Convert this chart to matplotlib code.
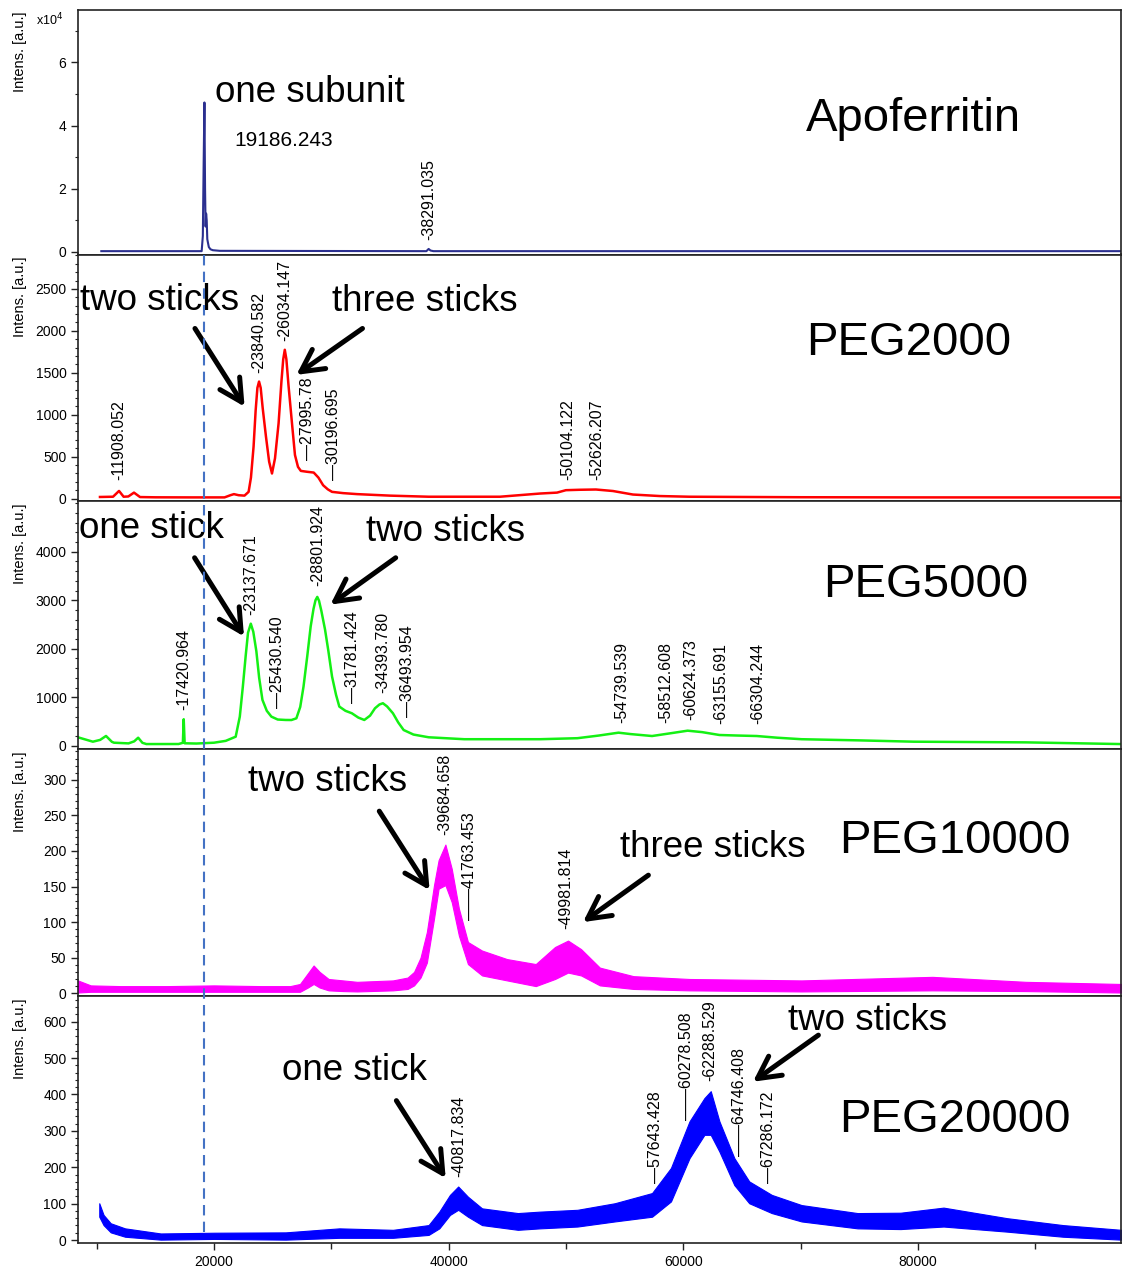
import matplotlib
matplotlib.use('Agg')
import matplotlib.pyplot as plt
import matplotlib.transforms as mtransforms
from matplotlib.lines import Line2D
from matplotlib.ticker import MultipleLocator, StrMethodFormatter

plt.rcParams['font.family'] = ['Liberation Sans', 'DejaVu Sans']

# ---- spectra (m/z, intensity) traced per sample ----
# Apoferritin, intensity in units of 1e4
apo_mz = [10400, 18950, 19050, 19120, 19186.243, 19240, 19285, 19330, 19380, 19430,
          19480, 19560, 19700, 19900, 20500, 38100, 38291.035, 38450, 38700, 97300]
apo_int = [0.02, 0.02, 0.5, 2.8, 4.73, 2.0, 0.8, 1.21, 1.0, 0.4,
           0.3, 0.15, 0.08, 0.05, 0.03, 0.02, 0.09, 0.04, 0.02, 0.02]

peg2k_mz = [10285, 11400, 11908, 12300, 12700, 13183, 13700, 15000, 18000, 20900,
            21400, 21700, 22100, 22600, 22950, 23150, 23374, 23550, 23700, 23840,
            23980, 24150, 24431, 24700, 24943, 25200, 25505, 25750, 25900, 26034,
            26170, 26350, 26647, 26900, 27158, 27400, 27900, 28500, 28900, 29300,
            29700, 30060, 31000, 32200, 35000, 38290, 44370, 47780, 49230, 49990,
            51200, 52550, 54000, 55700, 58000, 60500, 70000, 79600, 97300]
peg2k_int = [19, 22, 91, 22, 25, 71, 18, 15, 14, 14,
             40, 53, 40, 35, 80, 250, 620, 1050, 1320, 1395,
             1320, 1080, 737, 440, 299, 480, 897, 1400, 1660, 1774,
             1660, 1350, 897, 520, 378, 330, 320, 310, 250, 159,
             110, 80, 65, 53, 35, 22, 22, 60, 71, 100,
             105, 108, 90, 48, 30, 22, 16, 14, 13]

peg5k_mz = [8400, 9680, 10300, 10800, 11300, 11480, 12720, 13200, 13540, 13900,
            14240, 16980, 17350, 17421, 17500, 18500, 20000, 21000, 21850, 22200,
            22460, 22700, 22900, 23137, 23350, 23610, 23850, 24130, 24500, 24890,
            25430, 26110, 26600, 27020, 27350, 27630, 27950, 28240, 28480, 28650,
            28802, 28950, 29150, 29460, 29750, 30060, 30400, 30680, 31200, 31750,
            32300, 32810, 33300, 33720, 34100, 34394, 34750, 35250, 35700, 36160,
            37000, 38290, 41330, 45900, 47780, 50970, 52800, 54470, 55500, 57330,
            59000, 60360, 61600, 63070, 64600, 66250, 68000, 70070, 75000, 79630,
            89180, 97300]
peg5k_int = [174, 83, 120, 201, 80, 62, 48, 90, 165, 60,
             34, 35, 60, 546, 50, 45, 62, 100, 186, 600,
             1220, 1850, 2330, 2517, 2350, 1950, 1400, 945, 720, 600,
             540, 531, 530, 565, 800, 1220, 1850, 2461, 2820, 3000,
             3069, 2990, 2780, 2400, 1950, 1427, 1050, 807, 720, 669,
             580, 531, 620, 772, 850, 876, 810, 669, 480, 324,
             230, 174, 134, 134, 134, 155, 210, 269, 240, 200,
             260, 310, 280, 221, 210, 200, 165, 134, 110, 83,
             69, 34]

# noisy traces: upper / lower edge of the noise band
peg10k_mz = [8400, 9500, 12000, 16000, 20000, 24000, 26500, 27330, 28000, 28490,
             29000, 29770, 31000, 32200, 35250, 36500, 37050, 37600, 38140, 38750,
             39140, 39720, 40260, 40870, 41640, 42840, 44970, 47420, 49060, 50170,
             51280, 52880, 55740, 60520, 70070, 81220, 89180, 97300]
peg10k_hi = [18, 11, 10, 10, 11, 10, 10, 13, 28, 39,
             30, 20, 18, 16, 18, 22, 30, 50, 86, 152,
             187, 209, 175, 119, 72, 60, 48, 41, 65, 74,
             62, 36, 24, 20, 18, 23, 16, 13]
peg10k_lo = [1, 2, 2, 2, 2, 2, 2, 2, 8, 13,
             8, 4, 3, 2.5, 4, 6, 11, 22, 43, 105,
             147, 152, 128, 81, 41, 25, 18, 10, 20, 29,
             25, 11, 6, 4, 2.5, 4, 3, 1]

peg20k_mz = [10225, 10590, 11200, 12420, 15460, 20030, 26110, 30680, 35250, 38290,
             39200, 40110, 40810, 41640, 42840, 45900, 47780, 50970, 54150, 57330,
             58940, 60520, 61790, 62330, 63070, 64340, 65610, 67530, 70070, 74840,
             78500, 82170, 87580, 92350, 97300]
peg20k_hi = [101, 69, 46, 32, 18, 20, 21, 32, 28, 41,
             78, 124, 147, 119, 87, 74, 78, 83, 101, 129,
             198, 326, 390, 409, 326, 225, 161, 124, 96, 74,
             75, 89, 60, 41, 28]
peg20k_lo = [64, 41, 21, 9, 1, 3, 1, 6, 6, 14,
             32, 69, 83, 64, 41, 28, 32, 37, 51, 64,
             106, 225, 289, 289, 243, 151, 101, 74, 51, 32,
             30, 37, 23, 9, 1]

# ---- peak labels: mass, leader, height of label foot ----
apo_peaks = ['38291.035']
apo_lead = ['-']
apo_foot = [0.36]

peg2k_peaks = ['11908.052', '23840.582', '26034.147', '27995.78', '30196.695',
               '50104.122', '52626.207']
peg2k_lead = ['-', '-', '-', '—', '—', '-', '-']
peg2k_foot = [219, 1500, 1873, 458, 219, 219, 219]

peg5k_peaks = ['17420.964', '23137.671', '25430.540', '28801.924', '31781.424',
               '34393.780', '36493.954', '54739.539', '58512.608', '60624.373',
               '63155.691', '66304.244']
peg5k_lead = ['-', '-', '—', '-', '—', '-', '—', '-', '-', '-', '-', '-']
peg5k_foot = [738, 2703, 773, 3303, 877, 1083, 600, 476, 476, 531, 448, 448]

peg10k_peaks = ['39684.658', '41763.453', '49981.814']
peg10k_lead = ['-', '——', '-']
peg10k_foot = [222, 102.5, 91]

peg20k_peaks = ['40817.834', '57643.428', '60278.508', '62288.529', '64746.408',
                '67286.172']
peg20k_lead = ['-', '—', '——', '-', '——', '—']
peg20k_foot = [174, 156, 331, 438, 230, 156]

subunit_mass = '19186.243'

# ---- figure layout (pixel rows of the stacked panels) ----
W, H = 1124, 1268
fig = plt.figure(figsize=(W / 100, H / 100), dpi=100)
rows = [(10, 254.5), (254.5, 501), (501, 749.3), (749.3, 996.2), (996.2, 1242.7)]
x_left, x_right = 77.5, 1121
XLIM = (8370, 97290)

axes = []
for top, bottom in rows:
    ax = fig.add_axes([x_left / W, 1 - bottom / H, (x_right - x_left) / W, (bottom - top) / H])
    ax.set_xlim(*XLIM)
    for sp in ax.spines.values():
        sp.set_color('#222222')
        sp.set_linewidth(1.2)
    ax.tick_params(axis='y', which='major', direction='out', length=5, width=1,
                   labelsize=10, pad=3, color='#222222')
    ax.tick_params(axis='y', which='minor', direction='out', length=2.5, width=0.8,
                   color='#222222')
    ax.tick_params(axis='x', which='both', length=0, labelbottom=False)
    fig.text(19.6 / W, 1 - (top + 2) / H, 'Intens. [a.u.]', rotation=90,
             ha='center', va='top', fontsize=10.5)
    axes.append(ax)

ax1, ax2, ax3, ax4, ax5 = axes

label_kw = dict(rotation=90, ha='center', va='bottom', fontsize=11.5)
big_kw = dict(ha='center', va='center', fontsize=26.5)
name_kw = dict(ha='center', va='center', fontsize=34)
arrow_kw = dict(arrowstyle='->,head_length=0.8,head_width=0.42', lw=3.6,
                color='black', shrinkA=0, shrinkB=0, mutation_scale=20)


def peak_labels(ax, peaks, leads, feet):
    for m, lead, y in zip(peaks, leads, feet):
        ax.text(float(m), y, lead + m, **label_kw)


def big_text(ax, x, y, s, **kw):
    # nudge down a little so the glyphs sit on their visual centre
    tr = mtransforms.offset_copy(ax.transData, fig=fig, y=-4, units='dots')
    ax.text(x, y, s, transform=tr, **kw)


def arrow(ax, tail, tip):
    ax.annotate('', xy=tip, xytext=tail, arrowprops=arrow_kw)


# Apoferritin
ax1.plot(apo_mz, apo_int, color='#2b2f8f', lw=1.5)
ax1.set_ylim(-0.086, 7.66)
ax1.yaxis.set_major_locator(MultipleLocator(2))
ax1.yaxis.set_minor_locator(MultipleLocator(1))
peak_labels(ax1, apo_peaks, apo_lead, apo_foot)
big_text(ax1, 28181, 5.18, 'one subunit', **big_kw)
ax1.text(25965, 3.53, subunit_mass, ha='center', va='center', fontsize=15)
big_text(ax1, 79566, 4.33, 'Apoferritin', **name_kw)
fig.text(49.5 / W, 1 - 20 / H, 'x10$^4$', ha='center', va='center', fontsize=9)

# PEG2000
ax2.plot(peg2k_mz, peg2k_int, color='#ff0000', lw=1.8)
ax2.set_ylim(-29, 2910)
ax2.yaxis.set_major_locator(MultipleLocator(500))
ax2.yaxis.set_minor_locator(MultipleLocator(100))
peak_labels(ax2, peg2k_peaks, peg2k_lead, peg2k_foot)
big_text(ax2, 15340, 2411, 'two sticks', **big_kw)
arrow(ax2, (18380, 2028), (22608, 1096))
big_text(ax2, 38006, 2396, 'three sticks', **big_kw)
arrow(ax2, (32654, 2028), (27022, 1475))
big_text(ax2, 79223, 1902, 'PEG2000', **name_kw)

# PEG5000
ax3.plot(peg5k_mz, peg5k_int, color='#14f014', lw=1.8)
ax3.set_ylim(-74, 5047)
ax3.set_yticks([0, 1000, 2000, 3000, 4000])
ax3.yaxis.set_minor_locator(MultipleLocator(200))
peak_labels(ax3, peg5k_peaks, peg5k_lead, peg5k_foot)
big_text(ax3, 14700, 4565, 'one stick', **big_kw)
arrow(ax3, (18347, 3876), (22556, 2254))
big_text(ax3, 39727, 4497, 'two sticks', **big_kw)
arrow(ax3, (35484, 3876), (29919, 2910))
big_text(ax3, 80622, 3406, 'PEG5000', **name_kw)

# PEG10000
ax4.fill_between(peg10k_mz, peg10k_lo, peg10k_hi, color='#ff00ff', lw=0.8)
ax4.set_ylim(-4.2, 343)
ax4.yaxis.set_major_locator(MultipleLocator(50))
ax4.yaxis.set_minor_locator(MultipleLocator(10))
peak_labels(ax4, peg10k_peaks, peg10k_lead, peg10k_foot)
big_text(ax4, 29672, 303, 'two sticks', **big_kw)
arrow(ax4, (34086, 256), (38372, 145))
big_text(ax4, 62488, 211, 'three sticks', **big_kw)
arrow(ax4, (57017, 166), (51445, 100))
big_text(ax4, 83128, 220, 'PEG10000', **name_kw)

# PEG20000
ax5.fill_between(peg20k_mz, peg20k_lo, peg20k_hi, color='#0000ff', lw=0.8)
ax5.set_ylim(-7.4, 670)
ax5.yaxis.set_major_locator(MultipleLocator(100))
ax5.yaxis.set_minor_locator(MultipleLocator(20))
peak_labels(ax5, peg20k_peaks, peg20k_lead, peg20k_foot)
big_text(ax5, 31964, 478, 'one stick', **big_kw)
arrow(ax5, (35543, 383), (39744, 170))
big_text(ax5, 75722, 613, 'two sticks', **big_kw)
arrow(ax5, (71504, 563), (65931, 435))
big_text(ax5, 83128, 340, 'PEG20000', **name_kw)

ax5.xaxis.set_major_locator(MultipleLocator(20000))
ax5.xaxis.set_minor_locator(MultipleLocator(10000))
ax5.xaxis.set_major_formatter(StrMethodFormatter('{x:.0f}'))
ax5.tick_params(axis='x', which='major', direction='out', length=5, width=1,
                labelbottom=True, labelsize=10, pad=4, color='#222222')
ax5.tick_params(axis='x', which='minor', direction='out', length=4, width=1,
                color='#222222')

# dashed guide at the subunit mass, through the PEG panels
trans = mtransforms.blended_transform_factory(ax5.transData, fig.transFigure)
fig.add_artist(Line2D([float(subunit_mass)] * 2, [1 - 255 / H, 1 - 1232 / H],
                      transform=trans, color='#4472c4', lw=1.5,
                      linestyle=(0, (5, 3))))

fig.savefig('out.png', dpi=100)
